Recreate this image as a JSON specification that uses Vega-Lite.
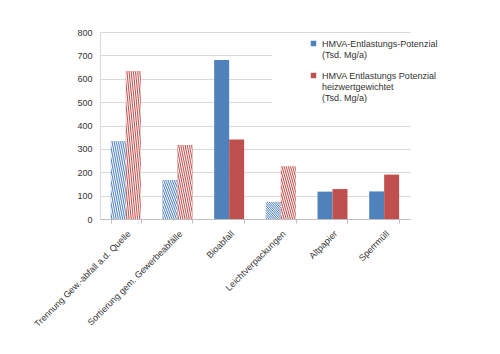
{
  "$schema": "https://vega.github.io/schema/vega-lite/v6.json",
  "autosize": "none",
  "width": 310,
  "height": 187,
  "padding": {"left": 100, "top": 32, "right": 90, "bottom": 135},
  "background": "white",
  "config": {
    "font": "Liberation Sans",
    "view": {"stroke": null}
  },
  "data": {
    "values": [
      {"kategorie": "Trennung Gew.-abfall a.d. Quelle", "serie": "A", "wert": 333, "art": "schraffiert"},
      {"kategorie": "Trennung Gew.-abfall a.d. Quelle", "serie": "B", "wert": 632, "art": "schraffiert"},
      {"kategorie": "Sortierung gem. Gewerbeabfälle", "serie": "A", "wert": 167, "art": "schraffiert"},
      {"kategorie": "Sortierung gem. Gewerbeabfälle", "serie": "B", "wert": 317, "art": "schraffiert"},
      {"kategorie": "Bioabfall", "serie": "A", "wert": 680, "art": "voll"},
      {"kategorie": "Bioabfall", "serie": "B", "wert": 340, "art": "voll"},
      {"kategorie": "Leichtverpackungen", "serie": "A", "wert": 73, "art": "schraffiert"},
      {"kategorie": "Leichtverpackungen", "serie": "B", "wert": 225, "art": "schraffiert"},
      {"kategorie": "Altpapier", "serie": "A", "wert": 117, "art": "voll"},
      {"kategorie": "Altpapier", "serie": "B", "wert": 128, "art": "voll"},
      {"kategorie": "Sperrmüll", "serie": "A", "wert": 118, "art": "voll"},
      {"kategorie": "Sperrmüll", "serie": "B", "wert": 190, "art": "voll"}
    ]
  },
  "encoding": {
    "x": {
      "field": "kategorie", "type": "nominal", "sort": null,
      "scale": {"paddingInner": 0.42, "paddingOuter": 0.21},
      "axis": {
        "title": null, "labelAngle": -45, "labelFontSize": 9, "labelColor": "#333333",
        "labelLimit": 300, "tickBand": "extent", "domainColor": "#bfbfbf", "tickColor": "#bfbfbf",
        "tickSize": 4, "labelPadding": 6, "grid": false
      }
    },
    "xOffset": {"field": "serie", "type": "nominal", "scale": {"paddingInner": 0, "paddingOuter": 0}},
    "y": {
      "field": "wert", "type": "quantitative",
      "scale": {"domain": [0, 800], "nice": false},
      "axis": {
        "title": null, "values": [0, 100, 200, 300, 400, 500, 600, 700, 800],
        "labelFontSize": 9, "labelColor": "#333333", "ticks": false, "labelPadding": 8,
        "gridColor": "#d9d9d9", "domainColor": "#d9d9d9"
      }
    }
  },
  "layer": [
    {
      "mark": {"type": "bar"},
      "encoding": {
        "color": {
          "field": "serie", "type": "nominal",
          "scale": {"domain": ["A", "B"], "range": ["#4F81BD", "#C0504D"]},
          "legend": {
            "title": null, "orient": "none", "legendX": 172, "legendY": 1,
            "fillColor": "white", "padding": 6, "symbolOffset": 31, "symbolType": "square",
            "symbolSize": 30, "labelFontSize": 9, "labelColor": "#333333", "labelLimit": 300,
            "rowPadding": 11,
            "labelExpr": "datum.value == 'A' ? ['HMVA-Entlastungs-Potenzial', '(Tsd. Mg/a)'] : ['HMVA Entlastungs Potenzial', 'heizwertgewichtet', '\u00a0(Tsd. Mg/a)']"
          }
        }
      }
    },
    {
      "transform": [{"filter": "datum.art == 'schraffiert'"}],
      "mark": {
        "type": "bar",
        "color": {
          "gradient": "linear", "x1": 0, "y1": 1, "x2": 1, "y2": 0,
          "stops": [
            {"offset": 0, "color": "rgba(255,255,255,1)"},
            {"offset": 0.0357, "color": "rgba(255,255,255,0)"},
            {"offset": 0.0714, "color": "rgba(255,255,255,1)"},
            {"offset": 0.1071, "color": "rgba(255,255,255,0)"},
            {"offset": 0.1429, "color": "rgba(255,255,255,1)"},
            {"offset": 0.1786, "color": "rgba(255,255,255,0)"},
            {"offset": 0.2143, "color": "rgba(255,255,255,1)"},
            {"offset": 0.25, "color": "rgba(255,255,255,0)"},
            {"offset": 0.2857, "color": "rgba(255,255,255,1)"},
            {"offset": 0.3214, "color": "rgba(255,255,255,0)"},
            {"offset": 0.3571, "color": "rgba(255,255,255,1)"},
            {"offset": 0.3929, "color": "rgba(255,255,255,0)"},
            {"offset": 0.4286, "color": "rgba(255,255,255,1)"},
            {"offset": 0.4643, "color": "rgba(255,255,255,0)"},
            {"offset": 0.5, "color": "rgba(255,255,255,1)"},
            {"offset": 0.5357, "color": "rgba(255,255,255,0)"},
            {"offset": 0.5714, "color": "rgba(255,255,255,1)"},
            {"offset": 0.6071, "color": "rgba(255,255,255,0)"},
            {"offset": 0.6429, "color": "rgba(255,255,255,1)"},
            {"offset": 0.6786, "color": "rgba(255,255,255,0)"},
            {"offset": 0.7143, "color": "rgba(255,255,255,1)"},
            {"offset": 0.75, "color": "rgba(255,255,255,0)"},
            {"offset": 0.7857, "color": "rgba(255,255,255,1)"},
            {"offset": 0.8214, "color": "rgba(255,255,255,0)"},
            {"offset": 0.8571, "color": "rgba(255,255,255,1)"},
            {"offset": 0.8929, "color": "rgba(255,255,255,0)"},
            {"offset": 0.9286, "color": "rgba(255,255,255,1)"},
            {"offset": 0.9643, "color": "rgba(255,255,255,0)"},
            {"offset": 1, "color": "rgba(255,255,255,1)"}
          ]
        }
      }
    }
  ]
}
